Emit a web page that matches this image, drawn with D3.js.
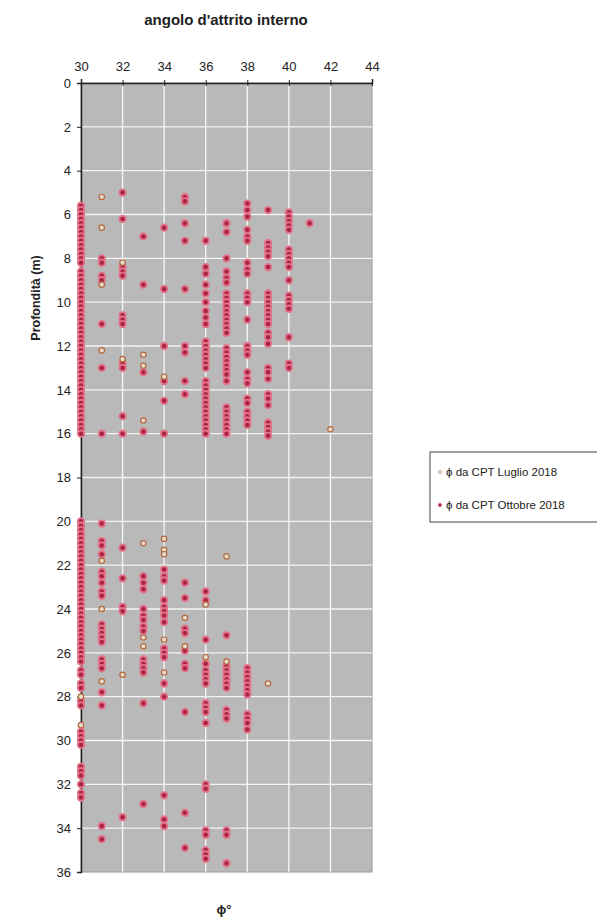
<!DOCTYPE html>
<html>
<head>
<meta charset="utf-8">
<script src="https://cdn.jsdelivr.net/npm/d3@7"></script>
<style>
  body { margin: 0; background: #fff; }
  text { font-family: "Liberation Sans", Arial, sans-serif; }
</style>
</head>
<body>
<svg id="chart" width="597" height="921"></svg>
<script>
// tick values
var xTicks = [30, 32, 34, 36, 38, 40, 42, 44];
var yTicks = d3.range(0, 37, 2);

// Ottobre 2018: depths (m) per phi column
var ott30 = [5.6,5.8,6.0,6.2,6.4,6.6,6.8,7.0,7.2,7.4,7.6,7.8,8.0,8.2,8.6,8.8,9.0,9.2,9.4,9.6,9.8,10.0,10.2,10.4,10.6,10.8,11.0,11.2,11.4,11.6,11.8,12.0,12.2,12.4,12.6,12.8,13.0,13.2,13.4,13.6,13.8,14.0,14.2,14.4,14.6,14.8,15.0,15.2,15.4,15.6,15.8,16.0,
  20.0,20.2,20.4,20.6,20.8,21.0,21.2,21.4,21.6,21.8,22.0,22.2,22.4,22.6,22.8,23.0,23.2,23.4,23.6,23.8,24.0,24.2,24.4,24.6,24.8,25.0,25.2,25.4,25.6,25.8,26.0,26.2,26.4,
  26.8,27.0,27.4,27.6,28.2,28.4,29.6,29.8,30.0,30.2,31.2,31.4,31.6,32.0,32.4,32.6];
var ott31 = [8.0,8.2,8.8,9.0,11.0,13.0,16.0,20.1,20.9,21.1,21.5,22.3,22.5,22.8,23.2,23.4,24.7,24.9,25.1,25.3,25.5,26.3,26.5,26.7,27.8,28.4,33.9,34.5];
var ott32 = [5.0,6.2,8.4,8.6,8.8,10.6,10.8,11.0,12.8,13.0,15.2,16.0,21.2,22.6,23.9,24.1,33.5];
var ott33 = [7.0,9.2,13.2,15.9,22.5,22.8,23.1,24.0,24.3,24.5,24.8,25.0,26.3,26.5,26.7,26.9,28.3,32.9];
var ott34 = [6.6,9.4,12.0,13.6,14.5,16.0,22.2,22.5,22.7,23.6,23.9,24.1,24.3,24.6,25.8,26.0,26.2,27.4,28.0,32.5,33.6,33.9];
var ott35 = [5.2,5.4,6.4,7.2,9.4,12.0,12.3,13.6,14.2,22.8,23.5,24.9,25.1,25.9,26.5,26.7,28.7,33.3,34.9];
var ott36 = [7.2,8.4,8.7,9.2,9.6,10.0,10.4,10.7,11.0,11.8,12.0,12.2,12.4,12.6,12.8,13.0,13.6,13.8,14.0,14.2,14.4,14.6,14.8,15.0,15.2,15.4,15.6,15.8,16.0,
  23.2,23.6,25.4,26.5,26.8,27.0,27.2,27.4,28.3,28.5,28.7,29.2,32.0,32.2,34.1,34.3,35.0,35.2,35.4];
var ott37 = [6.4,6.8,8.0,8.6,8.9,9.1,9.6,9.8,10.0,10.2,10.4,10.6,10.8,11.0,11.2,11.4,12.1,12.3,12.5,12.7,12.9,13.1,13.3,13.6,14.8,15.0,15.2,15.4,15.6,15.8,16.0,
  25.2,26.6,26.8,27.0,27.2,27.4,27.6,28.6,28.8,29.0,34.1,34.3,35.6];
var ott38 = [5.5,5.8,6.1,6.7,7.0,7.2,8.2,8.5,8.7,9.6,9.8,10.0,10.8,12.0,12.2,12.4,13.2,13.5,13.7,14.4,14.6,15.0,15.2,15.4,15.6,
  26.7,26.9,27.1,27.3,27.5,27.7,27.9,28.8,29.0,29.2,29.5];
var ott39 = [5.8,7.3,7.5,7.7,7.9,8.4,9.6,9.8,10.0,10.2,10.4,10.6,10.8,11.0,11.4,11.6,11.9,13.0,13.2,13.5,14.2,14.4,14.7,15.5,15.7,15.9,16.1];
var ott40 = [5.9,6.1,6.3,6.5,6.7,7.6,7.8,8.0,8.2,8.4,9.0,9.7,9.9,10.1,10.3,11.6,12.8,13.0];
var ott41 = [6.4];

// Luglio 2018: [phi, depth]
var luglio = [[31,5.2],[31,6.6],[31,9.2],[31,12.2],[31,21.8],[31,24.0],[31,27.3],[32,8.2],[32,12.6],[32,27.0],
  [33,12.4],[33,12.9],[33,15.4],[33,21.0],[33,25.3],[33,25.7],[34,20.8],[34,21.3],[34,21.5],[34,13.4],[34,25.4],[34,26.9],
  [35,24.4],[35,25.7],[36,23.8],[36,26.2],[37,21.6],[37,26.4],[39,27.4],[42,15.8],[30,28.0],[30,29.3]];

var ottCols = [[30, ott30], [31, ott31], [32, ott32], [33, ott33], [34, ott34], [35, ott35],
  [36, ott36], [37, ott37], [38, ott38], [39, ott39], [40, ott40], [41, ott41]];
var ottobre = [];
ottCols.forEach(function(c) { c[1].forEach(function(d) { ottobre.push([c[0], d]) }) });

var svg = d3.select("#chart");
var x = d3.scaleLinear().domain([30, 44]).range([81, 372]);
var y = d3.scaleLinear().domain([0, 36]).range([83, 872]);

// plot area
svg.append("rect")
  .attr("x", x(30)).attr("y", y(0))
  .attr("width", x(44) - x(30)).attr("height", y(36) - y(0))
  .attr("fill", "#b9b9b9").attr("stroke", "#9a9a9a").attr("stroke-width", 1);

// grid
svg.append("g").selectAll("line").data(xTicks.slice(1, -1)).join("line")
  .attr("x1", x).attr("x2", x).attr("y1", y(0)).attr("y2", y(36))
  .attr("stroke", "#f4f4f4").attr("stroke-width", 1.4);
svg.append("g").selectAll("line").data(yTicks.slice(1, -1)).join("line")
  .attr("x1", x(30)).attr("x2", x(44)).attr("y1", y).attr("y2", y)
  .attr("stroke", "#f4f4f4").attr("stroke-width", 1.4);

// axes
var xAxis = d3.axisTop(x).tickValues(xTicks).tickSize(4).tickPadding(8);
var yAxis = d3.axisLeft(y).tickValues(yTicks).tickSize(4).tickPadding(6);
var gx = svg.append("g").attr("transform", "translate(0," + y(0) + ")").call(xAxis);
var gy = svg.append("g").attr("transform", "translate(" + x(30) + ",0)").call(yAxis);
[gx, gy].forEach(function(g) {
  g.select(".domain").attr("stroke", "#222").attr("stroke-width", 1.5);
  g.selectAll(".tick line").attr("stroke", "#222");
  g.selectAll(".tick text").attr("fill", "#222")
    .style("font-family", "'Liberation Sans', Arial, sans-serif").style("font-size", "13px");
});
gx.selectAll(".tick line").attr("y2", 3).attr("y1", -3);

// points
svg.append("g").selectAll("circle").data(ottobre).join("circle")
  .attr("cx", function(d) { return x(d[0]) })
  .attr("cy", function(d) { return y(d[1]) })
  .attr("r", 3.2)
  .attr("fill", "#a82444").attr("stroke", "#e3728a").attr("stroke-width", 1.9);

svg.append("g").selectAll("circle").data(luglio).join("circle")
  .attr("cx", function(d) { return x(d[0]) })
  .attr("cy", function(d) { return y(d[1]) })
  .attr("r", 2.7)
  .attr("fill", "#e6ddd0").attr("stroke", "#b5683c").attr("stroke-width", 1.2);

// titles
svg.append("text").attr("x", 226).attr("y", 25).attr("text-anchor", "middle")
  .style("font-size", "15px").style("font-weight", "bold").attr("fill", "#222")
  .text("angolo d'attrito interno");
svg.append("text").attr("transform", "translate(40,298) rotate(-90)").attr("text-anchor", "middle")
  .style("font-size", "12.5px").style("font-weight", "bold").attr("fill", "#222")
  .text("Profondità (m)");
svg.append("text").attr("x", 224).attr("y", 914).attr("text-anchor", "middle")
  .style("font-size", "13px").style("font-weight", "bold").attr("fill", "#222")
  .text("ϕ°");

// legend
var lg = svg.append("g");
lg.append("rect").attr("x", 430).attr("y", 452).attr("width", 175).attr("height", 70)
  .attr("fill", "#fff").attr("stroke", "#444").attr("stroke-width", 1);
lg.append("circle").attr("cx", 440).attr("cy", 472).attr("r", 1.8)
  .attr("fill", "#e6ddd0").attr("stroke", "#c9a88e").attr("stroke-width", 0.8);
lg.append("circle").attr("cx", 440).attr("cy", 505).attr("r", 1.8)
  .attr("fill", "#a82444").attr("stroke", "#e3728a").attr("stroke-width", 0.8);
lg.append("text").attr("x", 446).attr("y", 476).style("font-size", "11.5px").attr("fill", "#222")
  .text("ϕ da CPT Luglio 2018");
lg.append("text").attr("x", 446).attr("y", 509).style("font-size", "11.5px").attr("fill", "#222")
  .text("ϕ da CPT Ottobre 2018");
</script>
</body>
</html>
